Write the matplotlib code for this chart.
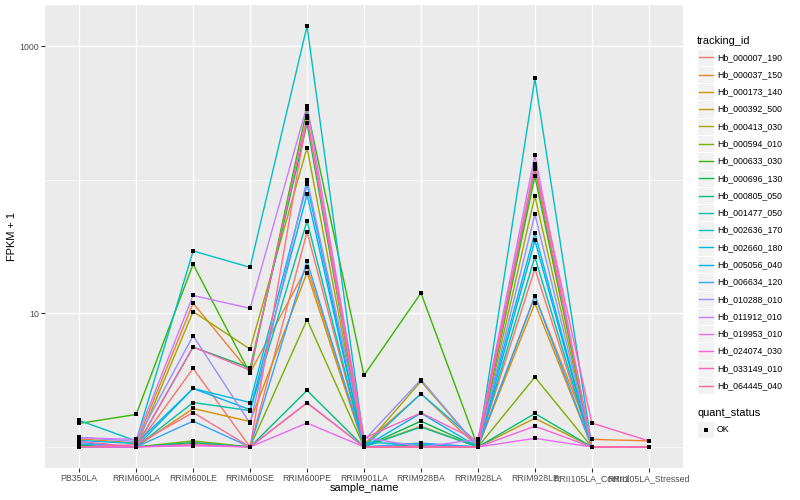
import matplotlib
matplotlib.use("Agg")
import matplotlib.pyplot as plt
from matplotlib.lines import Line2D
from matplotlib.patches import Rectangle
from matplotlib.ticker import NullFormatter
import numpy as np

plt.rcParams['font.family'] = ['Liberation Sans', 'DejaVu Sans']

sample_names = ["PB350LA", "RRIM600LA", "RRIM600LE", "RRIM600SE", "RRIM600PE",
                "RRIM901LA", "RRIM928BA", "RRIM928LA", "RRIM928LE",
                "RRII105LA_Control", "RRII105LA_Stressed"]

tracking_ids = ["Hb_000007_190", "Hb_000037_150", "Hb_000173_140", "Hb_000392_500",
                "Hb_000413_030", "Hb_000594_010", "Hb_000633_030", "Hb_000696_130",
                "Hb_000805_050", "Hb_001477_050", "Hb_002636_170", "Hb_002660_180",
                "Hb_005056_040", "Hb_006634_120", "Hb_010288_010", "Hb_011912_010",
                "Hb_019953_010", "Hb_024074_030", "Hb_033149_010", "Hb_064445_040"]

# FPKM + 1 per sample (order of sample_names)
hb_000007_190 = [1.0, 1.0, 3.87, 1.0, 40.6, 1.0, 1.0, 1.0, 21.6, 1.0, 1.0]
hb_000037_150 = [1.15, 1.07, 11.9, 3.6, 22.2, 1.05, 2.5, 1.0, 13.5, 1.14, 1.11]
hb_000173_140 = [1.0, 1.0, 1.94, 1.55, 20.2, 1.0, 1.43, 1.0, 11.9, 1.0, 1.0]
hb_000392_500 = [1.0, 1.0, 1.06, 1.0, 2.13, 1.0, 1.02, 1.0, 1.64, 1.0, 1.0]
hb_000413_030 = [1.0, 1.0, 10.3, 5.4, 174, 1.0, 3.1, 1.0, 75.6, 1.0, 1.0]
hb_000594_010 = [1.0, 1.0, 1.11, 1.0, 8.97, 1.0, 1.0, 1.0, 3.33, 1.0, 1.0]
hb_000633_030 = [1.5, 1.75, 23.3, 3.55, 341, 3.43, 14.2, 1.0, 106, 1.0, 1.0]
hb_000696_130 = [1.03, 1.0, 5.6, 3.9, 264, 1.0, 1.56, 1.0, 121, 1.0, 1.0]
hb_000805_050 = [1.0, 1.0, 1.08, 1.0, 2.65, 1.0, 1.03, 1.0, 1.78, 1.0, 1.0]
hb_001477_050 = [1.0, 1.0, 2.15, 1.87, 49.1, 1.0, 1.41, 1.0, 26.4, 1.0, 1.0]
hb_002636_170 = [1.58, 1.11, 29.3, 22.1, 1413, 1.08, 1.05, 1.0, 573, 1.0, 1.0]
hb_002660_180 = [1.12, 1.06, 2.74, 2.15, 92.5, 1.0, 2.5, 1.07, 40, 1.0, 1.0]
hb_005056_040 = [1.08, 1.0, 2.74, 1.9, 77.8, 1.0, 1.79, 1.0, 35.1, 1.0, 1.0]
hb_006634_120 = [1.05, 1.0, 1.56, 1.0, 24.6, 1.0, 1.07, 1.0, 13.5, 1.0, 1.0]
hb_010288_010 = [1.18, 1.1, 6.8, 1.5, 100, 1.12, 3.19, 1.0, 55.2, 1.0, 1.0]
hb_011912_010 = [1.17, 1.14, 13.6, 10.9, 357, 1.18, 1.0, 1.14, 153, 1.0, 1.0]
hb_019953_010 = [1.0, 1.0, 1.02, 1.0, 1.51, 1.0, 1.0, 1.0, 1.16, 1.0, 1.0]
hb_024074_030 = [1.0, 1.0, 1.04, 1.0, 2.15, 1.0, 1.0, 1.0, 1.43, 1.0, 1.0]
hb_033149_010 = [1.1, 1.0, 5.6, 3.75, 299, 1.16, 1.8, 1.11, 130, 1.51, 1.11]
hb_064445_040 = [1.0, 1.04, 1.81, 1.0, 292, 1.0, 1.0, 1.0, 125, 1.0, 1.0]

series_values = [hb_000007_190, hb_000037_150, hb_000173_140, hb_000392_500,
                 hb_000413_030, hb_000594_010, hb_000633_030, hb_000696_130,
                 hb_000805_050, hb_001477_050, hb_002636_170, hb_002660_180,
                 hb_005056_040, hb_006634_120, hb_010288_010, hb_011912_010,
                 hb_019953_010, hb_024074_030, hb_033149_010, hb_064445_040]

colors = ["#F8766D", "#EA8331", "#D89000", "#C09B00", "#A3A500", "#7CAE00",
          "#39B600", "#00BB4E", "#00BF7D", "#00C1A3", "#00BFC4", "#00BAE0",
          "#00B0F6", "#35A2FF", "#9590FF", "#C77CFF", "#E76BF3", "#FA62DB",
          "#FF62BC", "#FF6C91"]

W, H = 800, 500
fig = plt.figure(figsize=(8, 5), dpi=100)
fig.patch.set_facecolor("white")
L, R, T, B = 45, 683, 5, 468
ax = fig.add_axes([L / W, 1 - B / H, (R - L) / W, (B - T) / H])
ax.set_facecolor("#EBEBEB")

x = np.arange(1, len(sample_names) + 1)
for i, vals in enumerate(series_values):
    ax.plot(x, vals, color=colors[i], lw=1.0, zorder=3 + i * 0.01, solid_capstyle="butt")
for vals in series_values:
    ax.plot(x, vals, ls="none", marker="s", ms=2.7, mew=0, color="black", zorder=5)

ax.set_yscale("log")
allv = np.log10(np.concatenate([np.array(v, float) for v in series_values]))
lo, hi = allv.min(), allv.max()
pad = (hi - lo) * 0.05
ax.set_ylim(10 ** (lo - pad), 10 ** (hi + pad))
ax.set_xlim(0.4, len(sample_names) + 0.6)

ax.set_yticks([10, 1000])
ax.set_yticklabels(["10", "1000"])
ax.set_yticks([1, 100], minor=True)
ax.yaxis.set_minor_formatter(NullFormatter())
ax.yaxis.set_tick_params(which="minor", length=0)
ax.set_xticks(x)
ax.set_xticklabels(sample_names)
ax.grid(True, which="major", color="white", lw=1.0, zorder=0)
ax.grid(True, which="minor", axis="y", color="white", lw=0.5, zorder=0)
ax.set_axisbelow(True)
for s in ax.spines.values():
    s.set_visible(False)
ax.tick_params(axis="both", which="major", length=2.75, width=0.8, color="#333333",
               labelsize=6.3, labelcolor="#4D4D4D", pad=1.5)

fig.text(12 / W, 1 - 236.5 / H, "FPKM + 1", rotation=90, ha="center", va="center", fontsize=7.9)
fig.text(364 / W, 1 - 488 / H, "sample_name", ha="center", va="center", fontsize=7.9)

# legend
fig.text(697 / W, 1 - 40.5 / H, "tracking_id", ha="left", va="center", fontsize=7.9)
k0, kh = 57.3, 17.28
for i, tid in enumerate(tracking_ids):
    yc = k0 + i * kh
    fig.patches.append(Rectangle((697 / W, 1 - (yc + kh / 2) / H), kh / W, kh / H,
                                 transform=fig.transFigure, facecolor="#F2F2F2",
                                 edgecolor="white", lw=0.8))
    fig.lines.append(Line2D([699 / W, 712.5 / W], [1 - yc / H, 1 - yc / H],
                            transform=fig.transFigure, color=colors[i], lw=1.0))
    fig.text(717 / W, 1 - yc / H, tid, ha="left", va="center", fontsize=6.3)

fig.text(697 / W, 1 - 412.7 / H, "quant_status", ha="left", va="center", fontsize=7.9)
yc = 429.5
fig.patches.append(Rectangle((697 / W, 1 - (yc + kh / 2) / H), kh / W, kh / H,
                             transform=fig.transFigure, facecolor="#F2F2F2",
                             edgecolor="white", lw=0.8))
fig.lines.append(Line2D([705.5 / W], [1 - yc / H], transform=fig.transFigure,
                        ls="none", marker="s", ms=2.7, mew=0, color="black"))
fig.text(717 / W, 1 - yc / H, "OK", ha="left", va="center", fontsize=6.3)

fig.savefig("out.png", dpi=100)
